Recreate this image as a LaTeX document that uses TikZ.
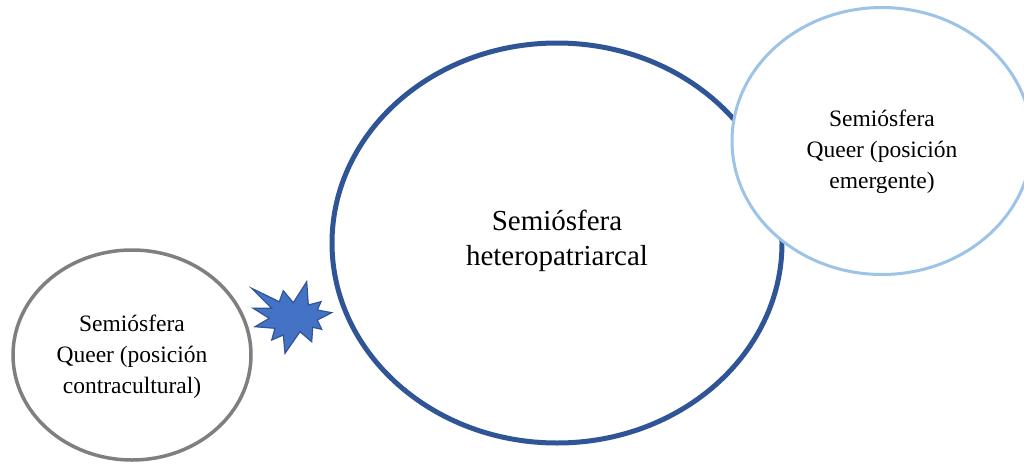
\documentclass[tikz,border=0pt]{standalone}
\usepackage{fontspec}
\setmainfont{Liberation Serif}
\usetikzlibrary{shapes.geometric}
\definecolor{heteroblue}{HTML}{2F5597}
\definecolor{emergblue}{HTML}{9DC3E6}
\definecolor{contragray}{HTML}{7F7F7F}
\definecolor{burstfill}{HTML}{4472C4}
\begin{document}
\begin{tikzpicture}[x=1pt,y=-1pt,
  sphere/.style={ellipse, inner sep=0pt, fill=white},
  bigtext/.style={align=center, inner sep=0pt, font=\fontsize{29}{35}\selectfont},
  smalltext/.style={align=center, inner sep=0pt, font=\fontsize{23.5}{31}\selectfont}]
\useasboundingbox (0,0) rectangle (1024,463);
\clip (0,0) rectangle (1024,463);

% central semiosphere
\node[sphere, draw=heteroblue, line width=5pt,
      minimum width=450pt, minimum height=400pt] (hetero) at (557,243) {};
% emergent queer semiosphere, overlapping the central one
\node[sphere, draw=emergblue, line width=3pt,
      minimum width=300pt, minimum height=267pt] (emerg) at (882,141) {};
% counter-cultural queer semiosphere
\node[sphere, draw=contragray, line width=3.5pt,
      minimum width=238pt, minimum height=210pt] (contra) at (132,355) {};

\node[bigtext] (heterotxt) at (557,241) {Semiósfera\\heteropatriarcal};
\node[smalltext] (emergtxt) at (882,152) {Semiósfera\\Queer (posición\\emergente)};
\node[smalltext] (contratxt) at (132,357) {Semiósfera\\Queer (posición\\contracultural)};

% conflict burst between the two spheres
\draw[heteroblue, fill=burstfill, line width=1.2pt, line join=miter]
  (251.7,288.3) -- (279.3,301.7) -- (283.3,290.7) -- (293.3,302.7)
  -- (306.7,281.7) -- (308.3,305) -- (321,301.7) -- (317.3,310)
  -- (331.7,312.7) -- (317.3,320) -- (321.7,329.3) -- (312.7,327.3)
  -- (311.7,341.7) -- (300,331.7) -- (285,353.3) -- (283.3,335)
  -- (271.7,340) -- (275,328.3) -- (255,326.7) -- (269.3,318.3)
  -- (253.3,308.3) -- (271.7,308.3) -- cycle;
\end{tikzpicture}
\end{document}
